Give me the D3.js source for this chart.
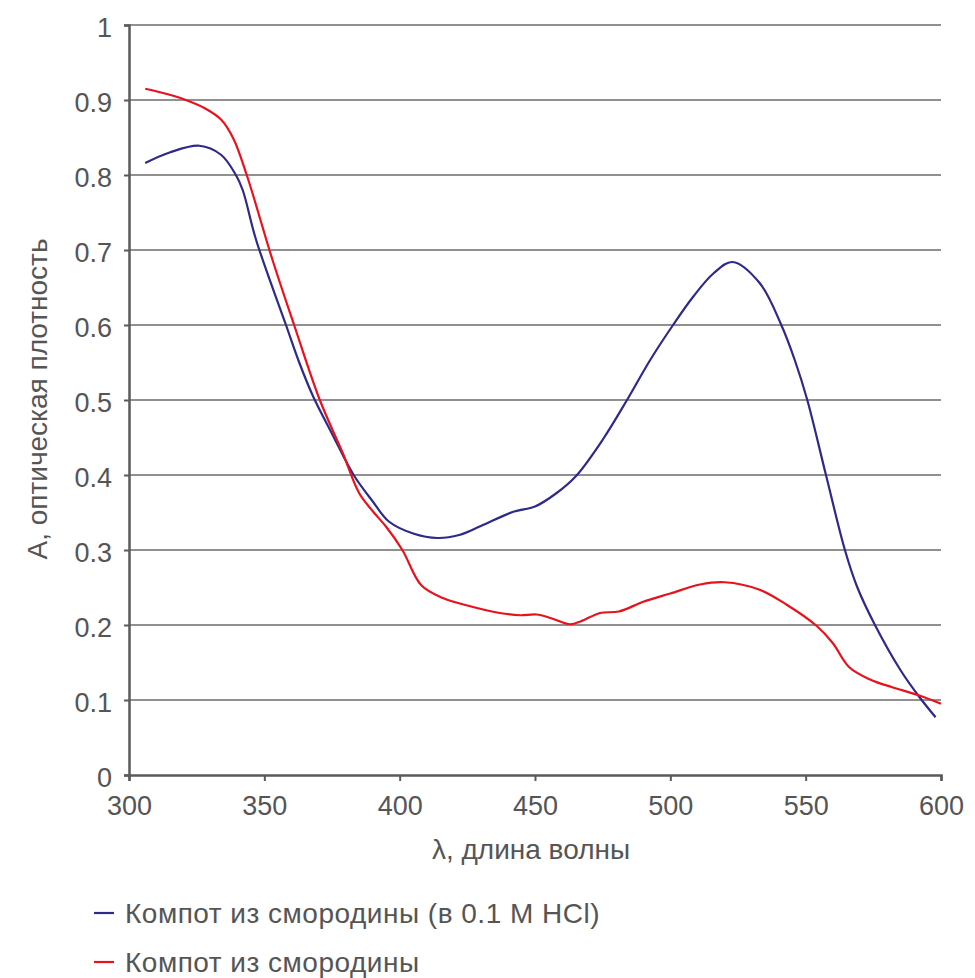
<!DOCTYPE html>
<html>
<head>
<meta charset="utf-8">
<script src="https://cdn.jsdelivr.net/npm/d3@7"></script>
<style>
  html, body { margin: 0; padding: 0; background: #fff; }
  svg text { font-family: "Liberation Sans", Arial, Helvetica, sans-serif; fill: #555; }
</style>
</head>
<body>
<svg id="chart" width="975" height="978"></svg>
<script>
// Absorption spectra of currant compote
const hclWavelength = [306, 315, 326, 334, 339.5, 342, 347, 358, 363, 368, 375, 383, 390, 396, 405, 414, 422, 430, 442, 450, 458, 465, 475, 484, 492.5, 501, 508.5, 516, 523, 533, 541, 546, 550.6, 557.5, 564.5, 569, 575.6, 585, 592, 598];
const hclAbsorbance = [0.816, 0.830, 0.839, 0.827, 0.800, 0.780, 0.713, 0.600, 0.549, 0.505, 0.455, 0.400, 0.365, 0.338, 0.322, 0.316, 0.320, 0.332, 0.351, 0.358, 0.376, 0.398, 0.447, 0.500, 0.553, 0.600, 0.638, 0.669, 0.684, 0.656, 0.600, 0.553, 0.500, 0.400, 0.300, 0.251, 0.200, 0.140, 0.104, 0.077];

const plainWavelength = [306, 314, 321, 328, 334, 338.5, 343.5, 353, 361, 370.5, 379, 385, 390, 395, 401, 408, 416, 425, 437, 444.5, 450.6, 456, 463, 467, 474, 481, 490, 500, 511, 520, 533, 543, 554, 560, 566, 574, 582, 592, 600];
const plainAbsorbance = [0.915, 0.908, 0.900, 0.889, 0.874, 0.849, 0.800, 0.687, 0.600, 0.500, 0.429, 0.376, 0.352, 0.331, 0.300, 0.253, 0.236, 0.226, 0.216, 0.213, 0.214, 0.209, 0.201, 0.205, 0.216, 0.218, 0.231, 0.242, 0.254, 0.257, 0.247, 0.227, 0.199, 0.176, 0.144, 0.127, 0.117, 0.106, 0.095];

const seriesNames = ["Компот из смородины (в 0.1 M HCl)", "Компот из смородины"];
const seriesColors = ["#2d2a8a", "#e8121d"];

const xTicks = [300, 350, 400, 450, 500, 550, 600];
const yTicks = [0, 0.1, 0.2, 0.3, 0.4, 0.5, 0.6, 0.7, 0.8, 0.9, 1];

const xTitle = "λ, длина волны";
const yTitle = "А, оптическая плотность";

const series = [
  { name: seriesNames[0], color: seriesColors[0], points: hclWavelength.map((w, i) => [w, hclAbsorbance[i]]) },
  { name: seriesNames[1], color: seriesColors[1], points: plainWavelength.map((w, i) => [w, plainAbsorbance[i]]) }
];

const svg = d3.select("#chart");
const x = d3.scaleLinear().domain([300, 600]).range([129, 941]);
const y = d3.scaleLinear().domain([0, 1]).range([775, 25]);

// horizontal gridlines
svg.append("g")
  .selectAll("line")
  .data(yTicks.filter(d => d > 0))
  .join("line")
  .attr("x1", x(300)).attr("x2", x(600))
  .attr("y1", d => y(d)).attr("y2", d => y(d))
  .attr("stroke", "#6b6b6b").attr("stroke-width", 1.4);

// y axis
const yAxis = svg.append("g")
  .attr("transform", `translate(${x(300)},0)`)
  .call(d3.axisLeft(y).tickValues(yTicks).tickSize(5).tickPadding(12)
    .tickFormat(d => d === 0 ? "0" : d === 1 ? "1" : d3.format(".1f")(d)));
yAxis.select(".domain").attr("stroke", "#5a5a5a").attr("stroke-width", 2.5);
yAxis.selectAll(".tick line").attr("stroke", "#5a5a5a").attr("stroke-width", 2);
yAxis.selectAll(".tick text").attr("font-size", 27).attr("fill", "#555").attr("dy", "0.42em");

// x axis
const xAxis = svg.append("g")
  .attr("transform", `translate(0,${y(0)})`)
  .call(d3.axisBottom(x).tickValues(xTicks).tickSize(6).tickPadding(12).tickSizeOuter(6));
xAxis.select(".domain").attr("stroke", "#5a5a5a").attr("stroke-width", 2.5);
xAxis.selectAll(".tick line").attr("stroke", "#5a5a5a").attr("stroke-width", 2);
xAxis.selectAll(".tick text").attr("font-size", 27).attr("fill", "#555")
  .attr("y", 40).attr("dy", 0);

// axis titles
svg.append("text")
  .attr("x", 531).attr("y", 859)
  .attr("text-anchor", "middle")
  .attr("font-size", 28)
  .text(xTitle);

svg.append("text")
  .attr("transform", "translate(47,399) rotate(-90)")
  .attr("text-anchor", "middle")
  .attr("font-size", 28)
  .text(yTitle);

// spectra
const line = d3.line()
  .x(d => x(d[0]))
  .y(d => y(d[1]))
  .curve(d3.curveCatmullRom.alpha(0.5));

svg.append("g")
  .selectAll("path")
  .data(series)
  .join("path")
  .attr("d", d => line(d.points))
  .attr("fill", "none")
  .attr("stroke", d => d.color)
  .attr("stroke-width", 2.2);

// legend
const legend = svg.append("g")
  .selectAll("g")
  .data(series)
  .join("g")
  .attr("transform", (d, i) => `translate(94,${913 + i * 49})`);
legend.append("line")
  .attr("x1", 0).attr("x2", 20)
  .attr("stroke", d => d.color).attr("stroke-width", 2.2);
legend.append("text")
  .attr("x", 31).attr("y", 10)
  .attr("font-size", 28)
  .attr("letter-spacing", 0.5)
  .text(d => d.name);
</script>
</body>
</html>
